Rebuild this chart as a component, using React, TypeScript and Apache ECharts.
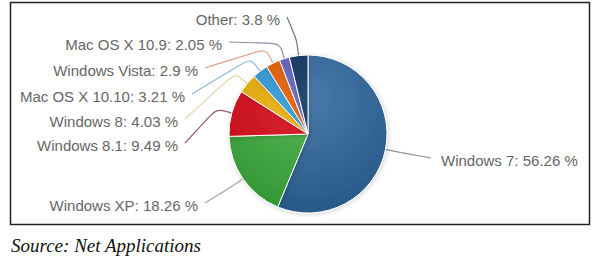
import React, { useEffect, useRef } from "react";
import * as echarts from "echarts";

// ---- data ----
const categories = [
  "Windows 7",
  "Windows XP",
  "Windows 8.1",
  "Windows 8",
  "Mac OS X 10.10",
  "Windows Vista",
  "Mac OS X 10.9",
  "Other",
];
const shares = [56.26, 18.26, 9.49, 4.03, 3.21, 2.9, 2.05, 3.8];
const sourceNote = "Source: Net Applications";

// ---- styles / layout ----
const sliceColors = ["#4172a1", "#4db04d", "#d8212f", "#e9b41e", "#409fd8", "#e46712", "#6b6bbd", "#1e4169"];
const lineColors = ["#8d9196", "#a3a8a3", "#98586a", "#e6d3a0", "#8db8da", "#dba68c", "#8f8fa8", "#6b7582"];
const CX = 308;
const CY = 134;
const RADIUS = 79;
const labelAnchorX = [441, 198, 178, 178, 185, 198, 222, 280];
const labelAnchorY = [160, 205, 145, 121, 96, 70, 44, 19];

function shade(hex: string, amt: number) {
  const n = parseInt(hex.slice(1), 16);
  const c = (v: number) => Math.max(0, Math.min(255, v + amt));
  const r = c((n >> 16) & 255), g = c((n >> 8) & 255), b = c(n & 255);
  return "rgb(" + r + "," + g + "," + b + ")";
}

export default function App() {
  const ref = useRef<HTMLDivElement>(null);
  useEffect(() => {
    if (!ref.current) return;
    const chart = echarts.init(ref.current, null, { renderer: "svg" });
    const total = shares.reduce((a, b) => a + b, 0);
    const cumulative: number[] = [];
    let acc = 0;
    shares.forEach((v) => {
      cumulative.push(acc);
      acc += v;
    });

    const data = categories.map((name, i) => ({
      name,
      value: shares[i],
      itemStyle: {
        color: new echarts.graphic.RadialGradient(
          CX,
          CY - 35,
          130,
          [
            { offset: 0, color: shade(sliceColors[i], 8) },
            { offset: 1, color: shade(sliceColors[i], -30) },
          ],
          true
        ),
      },
      labelLine: { lineStyle: { color: lineColors[i] } },
    }));

    chart.setOption({
      animation: false,
      backgroundColor: "#ffffff",
      graphic: [
        {
          type: "rect",
          shape: { x: 10.5, y: 2.5, width: 579, height: 222 },
          style: { fill: "none", stroke: "#222", lineWidth: 1.5 },
          z: 0,
        },
        {
          type: "text",
          x: 11,
          y: 245,
          style: {
            text: sourceNote,
            fill: "#111",
            fontSize: 19,
            fontStyle: "italic",
            fontFamily: "Liberation Serif, serif",
            verticalAlign: "middle",
          },
        },
      ],
      series: [
        {
          type: "pie",
          center: [CX, CY],
          radius: RADIUS,
          startAngle: 90,
          clockwise: true,
          avoidLabelOverlap: false,
          data,
          itemStyle: {
            borderColor: "#ffffff",
            borderWidth: 1,
            shadowBlur: 5,
            shadowColor: "rgba(0,0,0,0.18)",
            shadowOffsetX: 1,
            shadowOffsetY: 1,
          },
          label: {
            show: true,
            position: "outside",
            formatter: "{b}: {c} %",
            color: "#666",
            fontSize: 15,
            fontFamily: "Liberation Sans, Arial, sans-serif",
          },
          labelLine: { show: true, smooth: 0.25, lineStyle: { width: 1.2 } },
          labelLayout: (p: any) => {
            const i = p.dataIndex;
            const mid = ((cumulative[i] + shares[i] / 2) / total) * 2 * Math.PI;
            const dx = Math.sin(mid);
            const dy = -Math.cos(mid);
            const left = dx < 0;
            const lx = labelAnchorX[i];
            const ly = labelAnchorY[i];
            const edge = [CX + RADIUS * dx, CY + RADIUS * dy];
            const brk = [CX + (RADIUS + 16) * dx, CY + (RADIUS + 16) * dy];
            const end = [left ? lx + 7 : lx - 10, ly - 2];
            return {
              x: lx,
              y: ly,
              align: left ? "right" : "left",
              verticalAlign: "middle",
              labelLinePoints: [edge, brk, end],
            };
          },
          emphasis: { disabled: true },
        },
      ],
    });
    return () => chart.dispose();
  }, []);
  return (
    <div
      ref={ref}
      style={{ position: "fixed", left: 0, top: 0, width: 600, height: 256, background: "#fff" }}
    />
  );
}
